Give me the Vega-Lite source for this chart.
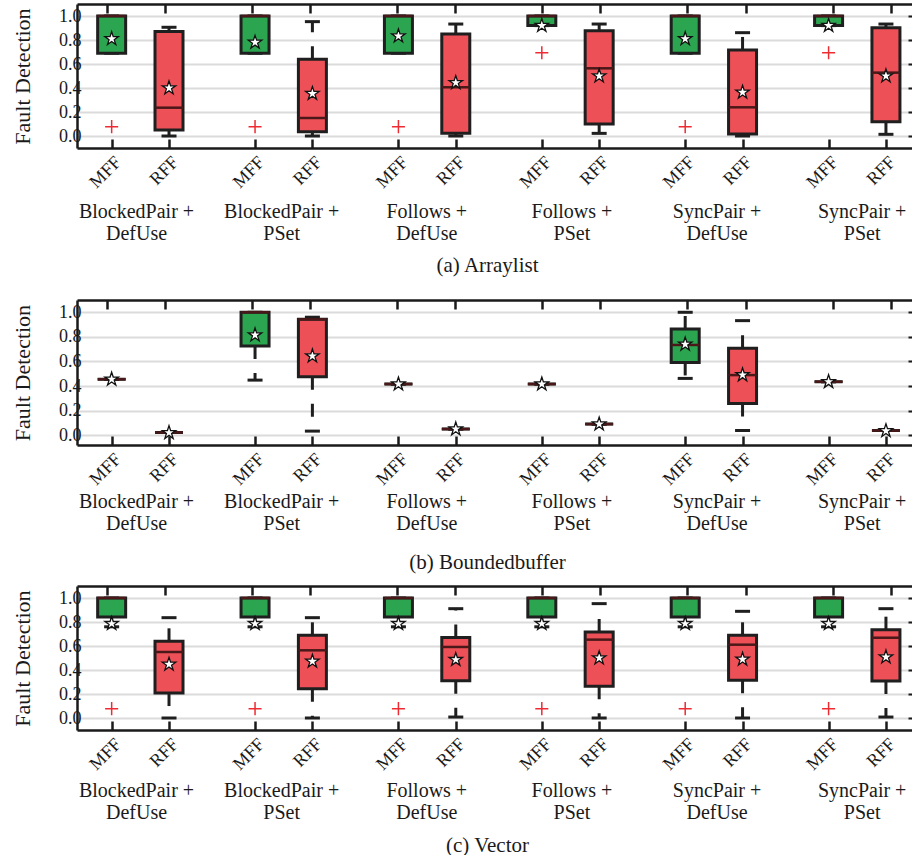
{
  "$schema": "https://vega.github.io/schema/vega-lite/v6.json",
  "padding": {"left": 11, "top": 2, "right": 0, "bottom": 0},
  "datasets": {
    "boxes": [
      {"panel": "a", "pos": 1, "cat": "MFF", "q1": 0.69, "q3": 1.0, "med": 1.0, "mean": 0.81, "wlo": 0.69, "whi": 1.0},
      {"panel": "a", "pos": 2, "cat": "RFF", "q1": 0.05, "q3": 0.87, "med": 0.236, "mean": 0.40, "wlo": 0.0, "whi": 0.906},
      {"panel": "a", "pos": 3.5, "cat": "MFF", "q1": 0.69, "q3": 1.0, "med": 1.0, "mean": 0.78, "wlo": 0.69, "whi": 1.0},
      {"panel": "a", "pos": 4.5, "cat": "RFF", "q1": 0.036, "q3": 0.64, "med": 0.15, "mean": 0.353, "wlo": 0.0, "whi": 0.953},
      {"panel": "a", "pos": 6, "cat": "MFF", "q1": 0.69, "q3": 1.0, "med": 1.0, "mean": 0.833, "wlo": 0.69, "whi": 1.0},
      {"panel": "a", "pos": 7, "cat": "RFF", "q1": 0.022, "q3": 0.85, "med": 0.406, "mean": 0.444, "wlo": 0.0, "whi": 0.933},
      {"panel": "a", "pos": 8.5, "cat": "MFF", "q1": 0.92, "q3": 1.0, "med": 1.0, "mean": 0.92, "wlo": 0.92, "whi": 1.0},
      {"panel": "a", "pos": 9.5, "cat": "RFF", "q1": 0.10, "q3": 0.878, "med": 0.564, "mean": 0.50, "wlo": 0.022, "whi": 0.933},
      {"panel": "a", "pos": 11, "cat": "MFF", "q1": 0.69, "q3": 1.0, "med": 1.0, "mean": 0.81, "wlo": 0.69, "whi": 1.0},
      {"panel": "a", "pos": 12, "cat": "RFF", "q1": 0.017, "q3": 0.717, "med": 0.239, "mean": 0.364, "wlo": 0.0, "whi": 0.861},
      {"panel": "a", "pos": 13.5, "cat": "MFF", "q1": 0.92, "q3": 1.0, "med": 1.0, "mean": 0.92, "wlo": 0.92, "whi": 1.0},
      {"panel": "a", "pos": 14.5, "cat": "RFF", "q1": 0.119, "q3": 0.903, "med": 0.528, "mean": 0.50, "wlo": 0.014, "whi": 0.933},

      {"panel": "b", "pos": 1, "cat": "MFF", "q1": 0.455, "q3": 0.455, "med": 0.455, "mean": 0.455, "wlo": 0.455, "whi": 0.455},
      {"panel": "b", "pos": 2, "cat": "RFF", "q1": 0.022, "q3": 0.022, "med": 0.022, "mean": 0.02, "wlo": 0.022, "whi": 0.022},
      {"panel": "b", "pos": 3.5, "cat": "MFF", "q1": 0.726, "q3": 1.0, "med": 1.0, "mean": 0.815, "wlo": 0.448, "whi": 1.0},
      {"panel": "b", "pos": 4.5, "cat": "RFF", "q1": 0.476, "q3": 0.943, "med": 0.943, "mean": 0.644, "wlo": 0.033, "whi": 0.96},
      {"panel": "b", "pos": 6, "cat": "MFF", "q1": 0.416, "q3": 0.416, "med": 0.416, "mean": 0.416, "wlo": 0.416, "whi": 0.416},
      {"panel": "b", "pos": 7, "cat": "RFF", "q1": 0.05, "q3": 0.05, "med": 0.05, "mean": 0.05, "wlo": 0.05, "whi": 0.05},
      {"panel": "b", "pos": 8.5, "cat": "MFF", "q1": 0.416, "q3": 0.416, "med": 0.416, "mean": 0.416, "wlo": 0.416, "whi": 0.416},
      {"panel": "b", "pos": 9.5, "cat": "RFF", "q1": 0.09, "q3": 0.09, "med": 0.09, "mean": 0.09, "wlo": 0.09, "whi": 0.09},
      {"panel": "b", "pos": 11, "cat": "MFF", "q1": 0.592, "q3": 0.864, "med": 0.734, "mean": 0.74, "wlo": 0.462, "whi": 1.0},
      {"panel": "b", "pos": 12, "cat": "RFF", "q1": 0.258, "q3": 0.707, "med": 0.489, "mean": 0.49, "wlo": 0.038, "whi": 0.932},
      {"panel": "b", "pos": 13.5, "cat": "MFF", "q1": 0.435, "q3": 0.435, "med": 0.435, "mean": 0.435, "wlo": 0.435, "whi": 0.435},
      {"panel": "b", "pos": 14.5, "cat": "RFF", "q1": 0.038, "q3": 0.038, "med": 0.038, "mean": 0.035, "wlo": 0.038, "whi": 0.038},

      {"panel": "c", "pos": 1, "cat": "MFF", "q1": 0.842, "q3": 1.0, "med": 1.0, "mean": 0.786, "wlo": 0.76, "whi": 1.0},
      {"panel": "c", "pos": 2, "cat": "RFF", "q1": 0.208, "q3": 0.639, "med": 0.55, "mean": 0.447, "wlo": 0.0, "whi": 0.836},
      {"panel": "c", "pos": 3.5, "cat": "MFF", "q1": 0.842, "q3": 1.0, "med": 1.0, "mean": 0.786, "wlo": 0.76, "whi": 1.0},
      {"panel": "c", "pos": 4.5, "cat": "RFF", "q1": 0.244, "q3": 0.689, "med": 0.564, "mean": 0.472, "wlo": 0.0, "whi": 0.836},
      {"panel": "c", "pos": 6, "cat": "MFF", "q1": 0.842, "q3": 1.0, "med": 1.0, "mean": 0.786, "wlo": 0.76, "whi": 1.0},
      {"panel": "c", "pos": 7, "cat": "RFF", "q1": 0.31, "q3": 0.67, "med": 0.592, "mean": 0.486, "wlo": 0.008, "whi": 0.911},
      {"panel": "c", "pos": 8.5, "cat": "MFF", "q1": 0.842, "q3": 1.0, "med": 1.0, "mean": 0.786, "wlo": 0.76, "whi": 1.0},
      {"panel": "c", "pos": 9.5, "cat": "RFF", "q1": 0.264, "q3": 0.717, "med": 0.653, "mean": 0.50, "wlo": 0.0, "whi": 0.953},
      {"panel": "c", "pos": 11, "cat": "MFF", "q1": 0.842, "q3": 1.0, "med": 1.0, "mean": 0.786, "wlo": 0.76, "whi": 1.0},
      {"panel": "c", "pos": 12, "cat": "RFF", "q1": 0.314, "q3": 0.689, "med": 0.611, "mean": 0.489, "wlo": 0.0, "whi": 0.889},
      {"panel": "c", "pos": 13.5, "cat": "MFF", "q1": 0.842, "q3": 1.0, "med": 1.0, "mean": 0.786, "wlo": 0.76, "whi": 1.0},
      {"panel": "c", "pos": 14.5, "cat": "RFF", "q1": 0.308, "q3": 0.736, "med": 0.669, "mean": 0.508, "wlo": 0.008, "whi": 0.911}
    ],
    "outliers": [
      {"panel": "a", "pos": 1, "v": 0.078},
      {"panel": "a", "pos": 3.5, "v": 0.078},
      {"panel": "a", "pos": 6, "v": 0.078},
      {"panel": "a", "pos": 8.5, "v": 0.694},
      {"panel": "a", "pos": 11, "v": 0.078},
      {"panel": "a", "pos": 13.5, "v": 0.694},
      {"panel": "c", "pos": 1, "v": 0.078},
      {"panel": "c", "pos": 3.5, "v": 0.078},
      {"panel": "c", "pos": 6, "v": 0.078},
      {"panel": "c", "pos": 8.5, "v": 0.078},
      {"panel": "c", "pos": 11, "v": 0.078},
      {"panel": "c", "pos": 13.5, "v": 0.078}
    ],
    "groups": [
      {"center": 1.5}, {"center": 4}, {"center": 6.5}, {"center": 9}, {"center": 11.5}, {"center": 14}
    ]
  },
  "vconcat": [
    {
      "width": 837, "height": 144,
      "layer": [
        {
          "encoding": {"x": {"field": "pos", "type": "quantitative", "scale": {"domain": [0.483, 14.902]}, "axis": {"orient": "bottom", "values": [1, 2, 3.5, 4.5, 6, 7, 8.5, 9.5, 11, 12, 13.5, 14.5], "labelExpr": "(datum.value * 2) % 5 == 2 ? 'MFF' : 'RFF'", "title": null, "labelOverlap": false, "labelFlush": false}}},
          "layer": [
            {"data": {"name": "boxes"}, "transform": [{"filter": "datum.panel == 'a'"}], "mark": {"type": "rule", "strokeDash": [13, 14], "strokeWidth": 3, "color": "#1f1f1f"}, "encoding": {"y": {"field": "q3", "type": "quantitative", "scale": {"domain": [-0.1, 1.1]}, "axis": {"values": [0, 0.2, 0.4, 0.6, 0.8, 1.0], "format": ".1f", "title": "Fault Detection"}}, "y2": {"field": "whi"}}},
            {"data": {"name": "boxes"}, "transform": [{"filter": "datum.panel == 'a'"}], "mark": {"type": "rule", "strokeDash": [13, 14], "strokeWidth": 3, "color": "#1f1f1f"}, "encoding": {"y": {"field": "q1", "type": "quantitative", "scale": {"domain": [-0.1, 1.1]}, "axis": {"values": [0, 0.2, 0.4, 0.6, 0.8, 1.0], "format": ".1f", "title": "Fault Detection"}}, "y2": {"field": "wlo"}}},
            {"data": {"name": "boxes"}, "transform": [{"filter": "datum.panel == 'a'"}], "mark": {"type": "tick", "orient": "horizontal", "size": 15, "thickness": 3, "color": "#1f1f1f", "opacity": 1}, "encoding": {"y": {"field": "whi", "type": "quantitative", "scale": {"domain": [-0.1, 1.1]}, "axis": {"values": [0, 0.2, 0.4, 0.6, 0.8, 1.0], "format": ".1f", "title": "Fault Detection"}}}},
            {"data": {"name": "boxes"}, "transform": [{"filter": "datum.panel == 'a'"}], "mark": {"type": "tick", "orient": "horizontal", "size": 15, "thickness": 3, "color": "#1f1f1f", "opacity": 1}, "encoding": {"y": {"field": "wlo", "type": "quantitative", "scale": {"domain": [-0.1, 1.1]}, "axis": {"values": [0, 0.2, 0.4, 0.6, 0.8, 1.0], "format": ".1f", "title": "Fault Detection"}}}},
            {"data": {"name": "boxes"}, "transform": [{"filter": "datum.panel == 'a'"}], "mark": {"type": "bar", "width": 28, "stroke": "#1f1f1f", "strokeWidth": 3, "opacity": 1}, "encoding": {"y": {"field": "q1", "type": "quantitative", "scale": {"domain": [-0.1, 1.1]}, "axis": {"values": [0, 0.2, 0.4, 0.6, 0.8, 1.0], "format": ".1f", "title": "Fault Detection"}}, "y2": {"field": "q3"}, "color": {"field": "cat", "type": "nominal", "scale": {"domain": ["MFF", "RFF"], "range": ["#2ca550", "#ee5058"]}, "legend": null}}},
            {"data": {"name": "boxes"}, "transform": [{"filter": "datum.panel == 'a'"}], "mark": {"type": "tick", "orient": "horizontal", "size": 28, "thickness": 2.5, "color": "#4a1818", "opacity": 1}, "encoding": {"y": {"field": "med", "type": "quantitative", "scale": {"domain": [-0.1, 1.1]}, "axis": {"values": [0, 0.2, 0.4, 0.6, 0.8, 1.0], "format": ".1f", "title": "Fault Detection"}}}},
            {"data": {"name": "boxes"}, "transform": [{"filter": "datum.panel == 'a'"}], "mark": {"type": "point", "shape": "M0,-1L0.2245,-0.309L0.951,-0.309L0.363,0.118L0.588,0.809L0,0.382L-0.588,0.809L-0.363,0.118L-0.951,-0.309L-0.2245,-0.309Z", "size": 200, "filled": true, "fill": "white", "stroke": "#111111", "strokeWidth": 1.3, "opacity": 1}, "encoding": {"y": {"field": "mean", "type": "quantitative", "scale": {"domain": [-0.1, 1.1]}, "axis": {"values": [0, 0.2, 0.4, 0.6, 0.8, 1.0], "format": ".1f", "title": "Fault Detection"}}}},
            {"data": {"name": "outliers"}, "transform": [{"filter": "datum.panel == 'a'"}], "mark": {"type": "point", "shape": "M-1,0L1,0M0,-1L0,1", "size": 170, "filled": false, "color": "#ee2a33", "strokeWidth": 1.5, "opacity": 1}, "encoding": {"y": {"field": "v", "type": "quantitative", "scale": {"domain": [-0.1, 1.1]}, "axis": {"values": [0, 0.2, 0.4, 0.6, 0.8, 1.0], "format": ".1f", "title": "Fault Detection"}}}}
          ]
        },
        {
          "data": {"name": "groups"},
          "mark": {"type": "tick", "opacity": 0},
          "encoding": {"x": {"field": "center", "type": "quantitative", "scale": {"domain": [0.483, 14.902]}, "axis": {"orient": "bottom", "offset": 50, "values": [1.5, 4, 6.5, 9, 11.5, 14], "labelExpr": "datum.value < 2 ? ['BlockedPair +', 'DefUse'] : datum.value < 5 ? ['BlockedPair +', 'PSet'] : datum.value < 7 ? ['Follows +', 'DefUse'] : datum.value < 10 ? ['Follows +', 'PSet'] : datum.value < 12 ? ['SyncPair +', 'DefUse'] : ['SyncPair +', 'PSet']", "domain": false, "ticks": false, "grid": false, "labelAngle": 0, "labelAlign": "center", "labelBaseline": "top", "labelFontSize": 20, "labelLineHeight": 22, "labelPadding": 3, "labelOverlap": false, "labelFlush": false, "title": "(a) Arraylist", "titleFontSize": 21, "titlePadding": 11, "titleX": 410, "titleAlign": "center"}}}
        },
        {
          "data": {"name": "boxes"},
          "transform": [{"filter": "datum.panel == 'a'"}],
          "mark": {"type": "tick", "opacity": 0},
          "encoding": {
            "x": {"field": "pos", "type": "quantitative", "scale": {"domain": [0.483, 14.902]}, "axis": {"orient": "top", "values": [1, 2, 3.5, 4.5, 6, 7, 8.5, 9.5, 11, 12, 13.5, 14.5], "labels": false, "title": null, "grid": false}},
            "y": {"field": "med", "type": "quantitative", "scale": {"domain": [-0.1, 1.1]}, "axis": {"orient": "right", "values": [0, 0.2, 0.4, 0.6, 0.8, 1.0], "labels": false, "title": null, "grid": false}}
          }
        }
      ],
      "resolve": {"scale": {"x": "independent", "y": "independent"}}
    },
    {
      "spacing": 12,
      "vconcat": [
        {
          "width": 837, "height": 145,
          "layer": [
            {
              "encoding": {"x": {"field": "pos", "type": "quantitative", "scale": {"domain": [0.483, 14.902]}, "axis": {"orient": "bottom", "values": [1, 2, 3.5, 4.5, 6, 7, 8.5, 9.5, 11, 12, 13.5, 14.5], "labelExpr": "(datum.value * 2) % 5 == 2 ? 'MFF' : 'RFF'", "title": null, "labelOverlap": false, "labelFlush": false}}},
              "layer": [
                {"data": {"name": "boxes"}, "transform": [{"filter": "datum.panel == 'b'"}], "mark": {"type": "rule", "strokeDash": [13, 14], "strokeWidth": 3, "color": "#1f1f1f"}, "encoding": {"y": {"field": "q3", "type": "quantitative", "scale": {"domain": [-0.08, 1.1]}, "axis": {"values": [0, 0.2, 0.4, 0.6, 0.8, 1.0], "format": ".1f", "title": "Fault Detection"}}, "y2": {"field": "whi"}}},
                {"data": {"name": "boxes"}, "transform": [{"filter": "datum.panel == 'b'"}], "mark": {"type": "rule", "strokeDash": [13, 14], "strokeWidth": 3, "color": "#1f1f1f"}, "encoding": {"y": {"field": "q1", "type": "quantitative", "scale": {"domain": [-0.08, 1.1]}, "axis": {"values": [0, 0.2, 0.4, 0.6, 0.8, 1.0], "format": ".1f", "title": "Fault Detection"}}, "y2": {"field": "wlo"}}},
                {"data": {"name": "boxes"}, "transform": [{"filter": "datum.panel == 'b'"}], "mark": {"type": "tick", "orient": "horizontal", "size": 15, "thickness": 3, "color": "#1f1f1f", "opacity": 1}, "encoding": {"y": {"field": "whi", "type": "quantitative", "scale": {"domain": [-0.08, 1.1]}, "axis": {"values": [0, 0.2, 0.4, 0.6, 0.8, 1.0], "format": ".1f", "title": "Fault Detection"}}}},
                {"data": {"name": "boxes"}, "transform": [{"filter": "datum.panel == 'b'"}], "mark": {"type": "tick", "orient": "horizontal", "size": 15, "thickness": 3, "color": "#1f1f1f", "opacity": 1}, "encoding": {"y": {"field": "wlo", "type": "quantitative", "scale": {"domain": [-0.08, 1.1]}, "axis": {"values": [0, 0.2, 0.4, 0.6, 0.8, 1.0], "format": ".1f", "title": "Fault Detection"}}}},
                {"data": {"name": "boxes"}, "transform": [{"filter": "datum.panel == 'b'"}], "mark": {"type": "bar", "width": 28, "stroke": "#1f1f1f", "strokeWidth": 3, "opacity": 1}, "encoding": {"y": {"field": "q1", "type": "quantitative", "scale": {"domain": [-0.08, 1.1]}, "axis": {"values": [0, 0.2, 0.4, 0.6, 0.8, 1.0], "format": ".1f", "title": "Fault Detection"}}, "y2": {"field": "q3"}, "color": {"field": "cat", "type": "nominal", "scale": {"domain": ["MFF", "RFF"], "range": ["#2ca550", "#ee5058"]}, "legend": null}}},
                {"data": {"name": "boxes"}, "transform": [{"filter": "datum.panel == 'b'"}], "mark": {"type": "tick", "orient": "horizontal", "size": 28, "thickness": 2.5, "color": "#4a1818", "opacity": 1}, "encoding": {"y": {"field": "med", "type": "quantitative", "scale": {"domain": [-0.08, 1.1]}, "axis": {"values": [0, 0.2, 0.4, 0.6, 0.8, 1.0], "format": ".1f", "title": "Fault Detection"}}}},
                {"data": {"name": "boxes"}, "transform": [{"filter": "datum.panel == 'b'"}], "mark": {"type": "point", "shape": "M0,-1L0.2245,-0.309L0.951,-0.309L0.363,0.118L0.588,0.809L0,0.382L-0.588,0.809L-0.363,0.118L-0.951,-0.309L-0.2245,-0.309Z", "size": 200, "filled": true, "fill": "white", "stroke": "#111111", "strokeWidth": 1.3, "opacity": 1}, "encoding": {"y": {"field": "mean", "type": "quantitative", "scale": {"domain": [-0.08, 1.1]}, "axis": {"values": [0, 0.2, 0.4, 0.6, 0.8, 1.0], "format": ".1f", "title": "Fault Detection"}}}}
              ]
            },
            {
              "data": {"name": "groups"},
              "mark": {"type": "tick", "opacity": 0},
              "encoding": {"x": {"field": "center", "type": "quantitative", "scale": {"domain": [0.483, 14.902]}, "axis": {"orient": "bottom", "offset": 43, "values": [1.5, 4, 6.5, 9, 11.5, 14], "labelExpr": "datum.value < 2 ? ['BlockedPair +', 'DefUse'] : datum.value < 5 ? ['BlockedPair +', 'PSet'] : datum.value < 7 ? ['Follows +', 'DefUse'] : datum.value < 10 ? ['Follows +', 'PSet'] : datum.value < 12 ? ['SyncPair +', 'DefUse'] : ['SyncPair +', 'PSet']", "domain": false, "ticks": false, "grid": false, "labelAngle": 0, "labelAlign": "center", "labelBaseline": "top", "labelFontSize": 20, "labelLineHeight": 22, "labelPadding": 3, "labelOverlap": false, "labelFlush": false, "title": "(b) Boundedbuffer", "titleFontSize": 21, "titlePadding": 18, "titleX": 410, "titleAlign": "center"}}}
            },
            {
              "data": {"name": "boxes"},
              "transform": [{"filter": "datum.panel == 'b'"}],
              "mark": {"type": "tick", "opacity": 0},
              "encoding": {
                "x": {"field": "pos", "type": "quantitative", "scale": {"domain": [0.483, 14.902]}, "axis": {"orient": "top", "values": [1, 2, 3.5, 4.5, 6, 7, 8.5, 9.5, 11, 12, 13.5, 14.5], "labels": false, "title": null, "grid": false}},
                "y": {"field": "med", "type": "quantitative", "scale": {"domain": [-0.08, 1.1]}, "axis": {"orient": "right", "values": [0, 0.2, 0.4, 0.6, 0.8, 1.0], "labels": false, "title": null, "grid": false}}
              }
            }
          ],
          "resolve": {"scale": {"x": "independent", "y": "independent"}}
        },
        {
          "width": 837, "height": 144,
          "layer": [
            {
              "encoding": {"x": {"field": "pos", "type": "quantitative", "scale": {"domain": [0.483, 14.902]}, "axis": {"orient": "bottom", "values": [1, 2, 3.5, 4.5, 6, 7, 8.5, 9.5, 11, 12, 13.5, 14.5], "labelExpr": "(datum.value * 2) % 5 == 2 ? 'MFF' : 'RFF'", "title": null, "labelOverlap": false, "labelFlush": false}}},
              "layer": [
                {"data": {"name": "boxes"}, "transform": [{"filter": "datum.panel == 'c'"}], "mark": {"type": "rule", "strokeDash": [13, 14], "strokeWidth": 3, "color": "#1f1f1f"}, "encoding": {"y": {"field": "q3", "type": "quantitative", "scale": {"domain": [-0.1, 1.1]}, "axis": {"values": [0, 0.2, 0.4, 0.6, 0.8, 1.0], "format": ".1f", "title": "Fault Detection"}}, "y2": {"field": "whi"}}},
                {"data": {"name": "boxes"}, "transform": [{"filter": "datum.panel == 'c'"}], "mark": {"type": "rule", "strokeDash": [13, 14], "strokeWidth": 3, "color": "#1f1f1f"}, "encoding": {"y": {"field": "q1", "type": "quantitative", "scale": {"domain": [-0.1, 1.1]}, "axis": {"values": [0, 0.2, 0.4, 0.6, 0.8, 1.0], "format": ".1f", "title": "Fault Detection"}}, "y2": {"field": "wlo"}}},
                {"data": {"name": "boxes"}, "transform": [{"filter": "datum.panel == 'c'"}], "mark": {"type": "tick", "orient": "horizontal", "size": 15, "thickness": 3, "color": "#1f1f1f", "opacity": 1}, "encoding": {"y": {"field": "whi", "type": "quantitative", "scale": {"domain": [-0.1, 1.1]}, "axis": {"values": [0, 0.2, 0.4, 0.6, 0.8, 1.0], "format": ".1f", "title": "Fault Detection"}}}},
                {"data": {"name": "boxes"}, "transform": [{"filter": "datum.panel == 'c'"}], "mark": {"type": "tick", "orient": "horizontal", "size": 15, "thickness": 3, "color": "#1f1f1f", "opacity": 1}, "encoding": {"y": {"field": "wlo", "type": "quantitative", "scale": {"domain": [-0.1, 1.1]}, "axis": {"values": [0, 0.2, 0.4, 0.6, 0.8, 1.0], "format": ".1f", "title": "Fault Detection"}}}},
                {"data": {"name": "boxes"}, "transform": [{"filter": "datum.panel == 'c'"}], "mark": {"type": "bar", "width": 28, "stroke": "#1f1f1f", "strokeWidth": 3, "opacity": 1}, "encoding": {"y": {"field": "q1", "type": "quantitative", "scale": {"domain": [-0.1, 1.1]}, "axis": {"values": [0, 0.2, 0.4, 0.6, 0.8, 1.0], "format": ".1f", "title": "Fault Detection"}}, "y2": {"field": "q3"}, "color": {"field": "cat", "type": "nominal", "scale": {"domain": ["MFF", "RFF"], "range": ["#2ca550", "#ee5058"]}, "legend": null}}},
                {"data": {"name": "boxes"}, "transform": [{"filter": "datum.panel == 'c'"}], "mark": {"type": "tick", "orient": "horizontal", "size": 28, "thickness": 2.5, "color": "#4a1818", "opacity": 1}, "encoding": {"y": {"field": "med", "type": "quantitative", "scale": {"domain": [-0.1, 1.1]}, "axis": {"values": [0, 0.2, 0.4, 0.6, 0.8, 1.0], "format": ".1f", "title": "Fault Detection"}}}},
                {"data": {"name": "boxes"}, "transform": [{"filter": "datum.panel == 'c'"}], "mark": {"type": "point", "shape": "M0,-1L0.2245,-0.309L0.951,-0.309L0.363,0.118L0.588,0.809L0,0.382L-0.588,0.809L-0.363,0.118L-0.951,-0.309L-0.2245,-0.309Z", "size": 200, "filled": true, "fill": "white", "stroke": "#111111", "strokeWidth": 1.3, "opacity": 1}, "encoding": {"y": {"field": "mean", "type": "quantitative", "scale": {"domain": [-0.1, 1.1]}, "axis": {"values": [0, 0.2, 0.4, 0.6, 0.8, 1.0], "format": ".1f", "title": "Fault Detection"}}}},
                {"data": {"name": "outliers"}, "transform": [{"filter": "datum.panel == 'c'"}], "mark": {"type": "point", "shape": "M-1,0L1,0M0,-1L0,1", "size": 170, "filled": false, "color": "#ee2a33", "strokeWidth": 1.5, "opacity": 1}, "encoding": {"y": {"field": "v", "type": "quantitative", "scale": {"domain": [-0.1, 1.1]}, "axis": {"values": [0, 0.2, 0.4, 0.6, 0.8, 1.0], "format": ".1f", "title": "Fault Detection"}}}}
              ]
            },
            {
              "data": {"name": "groups"},
              "mark": {"type": "tick", "opacity": 0},
              "encoding": {"x": {"field": "center", "type": "quantitative", "scale": {"domain": [0.483, 14.902]}, "axis": {"orient": "bottom", "offset": 47, "values": [1.5, 4, 6.5, 9, 11.5, 14], "labelExpr": "datum.value < 2 ? ['BlockedPair +', 'DefUse'] : datum.value < 5 ? ['BlockedPair +', 'PSet'] : datum.value < 7 ? ['Follows +', 'DefUse'] : datum.value < 10 ? ['Follows +', 'PSet'] : datum.value < 12 ? ['SyncPair +', 'DefUse'] : ['SyncPair +', 'PSet']", "domain": false, "ticks": false, "grid": false, "labelAngle": 0, "labelAlign": "center", "labelBaseline": "top", "labelFontSize": 20, "labelLineHeight": 22, "labelPadding": 3, "labelOverlap": false, "labelFlush": false, "title": "(c) Vector", "titleFontSize": 21, "titlePadding": 12, "titleX": 410, "titleAlign": "center"}}}
            },
            {
              "data": {"name": "boxes"},
              "transform": [{"filter": "datum.panel == 'c'"}],
              "mark": {"type": "tick", "opacity": 0},
              "encoding": {
                "x": {"field": "pos", "type": "quantitative", "scale": {"domain": [0.483, 14.902]}, "axis": {"orient": "top", "values": [1, 2, 3.5, 4.5, 6, 7, 8.5, 9.5, 11, 12, 13.5, 14.5], "labels": false, "title": null, "grid": false}},
                "y": {"field": "med", "type": "quantitative", "scale": {"domain": [-0.1, 1.1]}, "axis": {"orient": "right", "values": [0, 0.2, 0.4, 0.6, 0.8, 1.0], "labels": false, "title": null, "grid": false}}
              }
            }
          ],
          "resolve": {"scale": {"x": "independent", "y": "independent"}}
        }
      ]
    }
  ],
  "spacing": 23,
  "config": {
    "font": "Liberation Serif",
    "view": {"stroke": null},
    "axis": {"labelColor": "#1a1a1a", "titleColor": "#1a1a1a", "titleFontWeight": "normal", "domainColor": "#1a1a1a", "tickColor": "#1a1a1a", "gridColor": "#b0b0b0", "gridOpacity": 0.45, "gridWidth": 1.8},
    "axisLeft": {"labelFontSize": 18, "titleFontSize": 22, "ticks": false, "domain": true, "domainWidth": 2.5, "grid": true, "labelPadding": -4, "titlePadding": 13, "minExtent": 30, "maxExtent": 30, "zindex": 1},
    "axisBottom": {"labelFontSize": 18, "labelAngle": -45, "tickSize": -9, "tickWidth": 2.5, "domain": true, "domainWidth": 2.5, "labelPadding": 14, "grid": false},
    "axisTop": {"tickSize": -9, "tickWidth": 2.5, "domain": true, "domainWidth": 2.5, "labels": false, "grid": false},
    "axisRight": {"tickSize": -6, "tickWidth": 2, "domain": false, "labels": false, "grid": false}
  }
}
